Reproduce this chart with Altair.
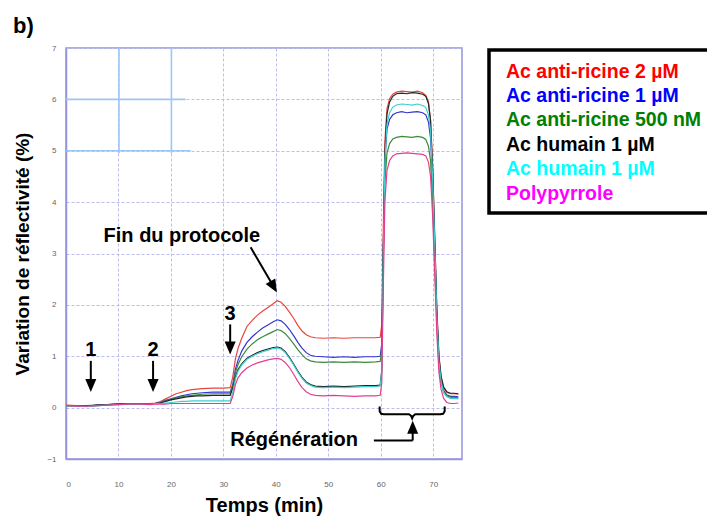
import altair as alt
import pandas as pd

# ---------------- data ----------------
T1 = [0, 2, 4, 6, 8, 10, 12, 14, 16]
T2 = [17, 18, 19, 20, 21, 22, 23, 24, 25, 26, 28, 30]
T3 = [31.3, 31.8, 32.3, 32.8, 33.5, 34.5, 35.5, 36.5, 37.5, 38.5, 39.5, 40.3, 41, 41.8,
      42.6, 43.4, 44.2, 45, 45.8, 46.6, 47.5, 49, 51, 53, 55, 57, 59, 59.9]
T4 = [60.2, 60.5, 60.8, 61.2, 61.7, 62.3, 63, 64, 65, 66, 67, 68]
T5 = [68.6, 69.1, 69.5, 69.9, 70.3, 70.7, 71.1, 71.5, 72, 72.6, 73.3, 74, 74.8]
time = T1 + T2 + T3 + T4 + T5

red = ([0.05, 0.04, 0.03, 0.05, 0.06, 0.07, 0.07, 0.08, 0.08]
       + [0.09, 0.12, 0.17, 0.22, 0.27, 0.30, 0.33, 0.35, 0.36, 0.37, 0.38, 0.38]
       + [0.39, 0.60, 0.95, 1.15, 1.35, 1.58, 1.70, 1.80, 1.88, 1.95, 2.02, 2.08, 2.05, 1.97,
          1.86, 1.74, 1.60, 1.49, 1.42, 1.38, 1.36, 1.35, 1.36, 1.35, 1.36, 1.36, 1.36, 1.37]
       + [1.61, 3.52, 5.19, 5.82, 6.01, 6.10, 6.14, 6.16, 6.15, 6.14, 6.16, 6.13]
       + [6.08, 5.95, 5.60, 4.70, 3.30, 1.90, 1.00, 0.60, 0.38, 0.30, 0.27, 0.27, 0.26])
blue = ([0.04, 0.04, 0.03, 0.05, 0.06, 0.07, 0.07, 0.08, 0.08]
        + [0.08, 0.10, 0.14, 0.17, 0.20, 0.23, 0.25, 0.27, 0.28, 0.29, 0.30, 0.30]
        + [0.30, 0.45, 0.75, 0.92, 1.10, 1.27, 1.38, 1.47, 1.55, 1.61, 1.67, 1.71, 1.69, 1.62,
           1.52, 1.40, 1.27, 1.16, 1.07, 1.02, 1.00, 0.99, 0.98, 0.99, 0.98, 0.99, 0.99, 1.00]
        + [1.24, 3.14, 4.80, 5.42, 5.61, 5.70, 5.74, 5.76, 5.74, 5.75, 5.76, 5.74]
        + [5.70, 5.56, 5.25, 4.37, 3.10, 1.77, 0.91, 0.54, 0.33, 0.25, 0.22, 0.22, 0.21])
green = ([0.04, 0.03, 0.03, 0.04, 0.06, 0.07, 0.07, 0.07, 0.08]
         + [0.08, 0.09, 0.13, 0.16, 0.19, 0.21, 0.23, 0.24, 0.25, 0.26, 0.27, 0.27]
         + [0.27, 0.42, 0.68, 0.84, 0.99, 1.14, 1.24, 1.32, 1.38, 1.43, 1.48, 1.52, 1.50, 1.44,
            1.35, 1.24, 1.13, 1.03, 0.95, 0.91, 0.89, 0.88, 0.89, 0.88, 0.89, 0.88, 0.89, 0.90]
         + [1.12, 2.87, 4.40, 4.96, 5.14, 5.23, 5.26, 5.28, 5.27, 5.26, 5.28, 5.26]
         + [5.22, 5.09, 4.81, 4.00, 2.84, 1.62, 0.83, 0.49, 0.30, 0.23, 0.20, 0.20, 0.19])
black = ([0.04, 0.04, 0.04, 0.05, 0.06, 0.07, 0.08, 0.08, 0.08]
         + [0.08, 0.09, 0.12, 0.15, 0.17, 0.19, 0.21, 0.22, 0.23, 0.23, 0.24, 0.24]
         + [0.24, 0.38, 0.60, 0.74, 0.85, 0.96, 1.02, 1.07, 1.11, 1.14, 1.17, 1.18, 1.16, 1.09,
            0.98, 0.85, 0.71, 0.59, 0.50, 0.45, 0.42, 0.41, 0.42, 0.41, 0.42, 0.43, 0.43, 0.44]
         + [0.72, 3.00, 4.98, 5.72, 5.95, 6.06, 6.11, 6.12, 6.11, 6.13, 6.12, 6.10]
         + [6.06, 5.92, 5.59, 4.66, 3.32, 1.92, 1.01, 0.62, 0.40, 0.31, 0.28, 0.28, 0.27])
cyan = ([0.03, 0.03, 0.02, 0.04, 0.05, 0.06, 0.07, 0.07, 0.07]
        + [0.08, 0.08, 0.09, 0.10, 0.11, 0.12, 0.12, 0.13, 0.13, 0.13, 0.13, 0.13]
        + [0.13, 0.30, 0.56, 0.71, 0.83, 0.94, 1.00, 1.05, 1.09, 1.12, 1.15, 1.16, 1.14, 1.07,
           0.96, 0.83, 0.69, 0.57, 0.48, 0.43, 0.40, 0.39, 0.40, 0.39, 0.40, 0.41, 0.41, 0.42]
        + [0.69, 2.89, 4.80, 5.52, 5.74, 5.85, 5.89, 5.91, 5.90, 5.89, 5.91, 5.88]
        + [5.84, 5.70, 5.39, 4.47, 3.15, 1.78, 0.90, 0.51, 0.29, 0.21, 0.18, 0.18, 0.17])
magenta = ([0.04, 0.03, 0.03, 0.04, 0.05, 0.06, 0.07, 0.07, 0.06]
           + [0.07, 0.07, 0.07, 0.08, 0.08, 0.08, 0.08, 0.08, 0.08, 0.08, 0.08, 0.08]
           + [0.08, 0.22, 0.45, 0.58, 0.68, 0.77, 0.83, 0.87, 0.90, 0.93, 0.95, 0.96, 0.94, 0.88,
              0.78, 0.65, 0.51, 0.39, 0.31, 0.26, 0.24, 0.23, 0.24, 0.23, 0.22, 0.23, 0.23, 0.24]
           + [0.48, 2.36, 4.01, 4.62, 4.81, 4.90, 4.94, 4.95, 4.96, 4.95, 4.94, 4.93]
           + [4.90, 4.78, 4.51, 3.73, 2.61, 1.44, 0.69, 0.36, 0.18, 0.10, 0.08, 0.08, 0.09])

series_keys = ["s1", "s2", "s3", "s4", "s5", "s6"]
series_labels = ["Ac anti-ricine 2 µM", "Ac anti-ricine 1 µM", "Ac anti-ricine 500 nM",
                 "Ac humain 1 µM", "Ac humain 1 µM", "Polypyrrole"]
series_values = [red, blue, green, black, cyan, magenta]
line_colors = ["#e8453f", "#3535d0", "#3c8a3c", "#1e2a2a", "#3fcfcf", "#e2408e"]
legend_colors = ["#ff0000", "#0000ff", "#008000", "#000000", "#00ffff", "#ff00ff"]

x_ticks = [0, 10, 20, 30, 40, 50, 60, 70]
y_ticks = [-1, 0, 1, 2, 3, 4, 5, 6, 7]

# annotation data (in data coordinates)
step_labels = ["1", "2", "3"]
step_t = [4.73, 16.6, 31.3]
step_text_v = [1.0, 1.0, 1.70]
step_shaft_top = [0.91, 0.91, 1.62]
step_shaft_bot = [0.52, 0.52, 1.26]
step_head_v = [0.43, 0.43, 1.16]

# light-blue stray grid segments in upper-left
stray_t = [0, 0, 10.1, 20.1]
stray_t2 = [22.8, 23.8, 10.1, 20.1]
stray_v = [6, 5, 7, 7]
stray_v2 = [6, 5, 4.95, 4.95]

brace_t = [59.8, 59.8, 60.1, 60.6, 65.4, 65.8, 66.0, 66.2, 66.6, 71.4, 71.9, 72.2, 72.2]
brace_v = [0.02, -0.07, -0.12, -0.13, -0.13, -0.16, -0.21, -0.16, -0.13, -0.13, -0.12, -0.07, 0.02]

# ---------------- frames ----------------
rows = []
for k, vals in zip(series_keys, series_values):
    for t, v in zip(time, vals):
        rows.append({"t": t, "v": v, "k": k})
curves_df = pd.DataFrame(rows)

FONT = "Liberation Sans"

X_SCALE = alt.Scale(domain=[0, 75.5], nice=False, zero=False)
Y_SCALE = alt.Scale(domain=[-1, 7], nice=False, zero=False)
X_AXIS = alt.Axis(values=x_ticks, title="Temps (min)", labelPadding=21,
                  titleY=52, titleBaseline="alphabetic", grid=True, titleFontSize=20)
Y_AXIS = alt.Axis(values=y_ticks, title="Variation de réflectivité (%)",
                  labelPadding=10, titleX=-44, titleY=205.5,
                  titleBaseline="middle", grid=True, titleFontSize=19)


def X(f="t"):
    return alt.X(f"{f}:Q", scale=X_SCALE, axis=X_AXIS, title="Temps (min)")


def Y(f="v"):
    return alt.Y(f"{f}:Q", scale=Y_SCALE, axis=Y_AXIS, title="Variation de réflectivité (%)")


curves = alt.Chart(curves_df).mark_line(strokeWidth=1.2).encode(
    x=X(), y=Y(),
    color=alt.Color("k:N", scale=alt.Scale(domain=series_keys, range=line_colors), legend=None),
    order=alt.Order("t:Q"),
)

stray = alt.Chart(pd.DataFrame({"t": stray_t, "t2": stray_t2, "v": stray_v, "v2": stray_v2})
                  ).mark_rule(color="#9cc6f5", strokeWidth=1.6).encode(
    x=X(), x2=alt.X2("t2:Q", title=None), y=Y(), y2=alt.Y2("v2:Q", title=None))

# arrows: shafts
shaft_rows = []
for t, a, b in zip(step_t, step_shaft_top, step_shaft_bot):
    shaft_rows.append({"t": t, "t2": t, "v": a, "v2": b})
shaft_rows.append({"t": 35.2, "t2": 39.1, "v": 3.12, "v2": 2.44})   # Fin du protocole
shaft_rows.append({"t": 58.7, "t2": 66.1, "v": -0.64, "v2": -0.64})  # Régénération horizontal
shaft_rows.append({"t": 66.1, "t2": 66.1, "v": -0.64, "v2": -0.45})  # Régénération vertical
shafts = alt.Chart(pd.DataFrame(shaft_rows)).mark_rule(color="black", strokeWidth=2).encode(
    x=X(), x2=alt.X2("t2:Q", title=None), y=Y(), y2=alt.Y2("v2:Q", title=None))

head_rows = [{"t": t, "v": v, "a": 0} for t, v in zip(step_t, step_head_v)]
head_rows.append({"t": 39.6, "v": 2.35, "a": 330})
head_rows.append({"t": 66.1, "v": -0.38, "a": 180})
heads = alt.Chart(pd.DataFrame(head_rows)).mark_point(
    shape="M-0.85,-1L0.85,-1L0,1Z", filled=True, color="black", opacity=1, size=169,
    strokeWidth=0).encode(x=X(), y=Y(), angle=alt.Angle("a:Q", scale=None))

step_text = alt.Chart(pd.DataFrame({"t": step_t, "v": step_text_v, "s": step_labels})).mark_text(
    font=FONT, fontSize=20, fontWeight="bold", baseline="alphabetic", align="center",
    color="black").encode(x=X(), y=Y(), text="s:N")

notes = alt.Chart(pd.DataFrame({"t": [22.1, 43.5], "v": [3.23, -0.75],
                                "s": ["Fin du protocole", "Régénération"]})).mark_text(
    font=FONT, fontSize=20, fontWeight="bold", baseline="alphabetic", align="center",
    color="black").encode(x=X(), y=Y(), text="s:N")

brace = alt.Chart(pd.DataFrame({"t": brace_t, "v": brace_v, "o": list(range(len(brace_t)))})
                  ).mark_line(color="black", strokeWidth=2).encode(
    x=X(), y=Y(), order="o:Q")

# panel label
panel = alt.Chart(pd.DataFrame({"s": ["b)"]})).mark_text(
    font=FONT, fontSize=22, fontWeight="bold", align="left", baseline="alphabetic",
    color="black").encode(x=alt.value(-53), y=alt.value(-15), text="s:N")

# legend box
legend_box = alt.Chart(pd.DataFrame({"s": [0]})).mark_rect(
    fill="white", stroke="black", strokeWidth=3.5).encode(
    x=alt.value(423), x2=alt.value(680), y=alt.value(2), y2=alt.value(165))

legend_layers = []
for i, (lab, col) in enumerate(zip(series_labels, legend_colors)):
    legend_layers.append(
        alt.Chart(pd.DataFrame({"s": [lab]})).mark_text(
            font=FONT, fontSize=19.5, fontWeight="bold", align="left", baseline="alphabetic",
            color=col).encode(x=alt.value(440), y=alt.value(29.5 + 24.4 * i), text="s:N"))

chart = alt.layer(
    curves, stray, brace, shafts, heads, step_text, notes, panel, legend_box, *legend_layers
).properties(
    width=396, height=411,
    padding={"left": 58, "top": 40, "right": 245, "bottom": 58},
    autosize=alt.AutoSizeParams(type="none"),
).configure_axis(
    gridColor="#bdbdec", gridDash=[3, 2], gridWidth=1,
    domainColor="#9494dc", domainWidth=1.5,
    labelColor="#666666", labelFont=FONT, labelFontSize=8,
    ticks=False, tickSize=0,
    titleFont=FONT, titleFontWeight="bold", titleColor="black",
).configure_view(stroke="#9494dc", strokeWidth=1.5)

chart.save("out.html", embed_options={"renderer": "svg", "actions": False})
